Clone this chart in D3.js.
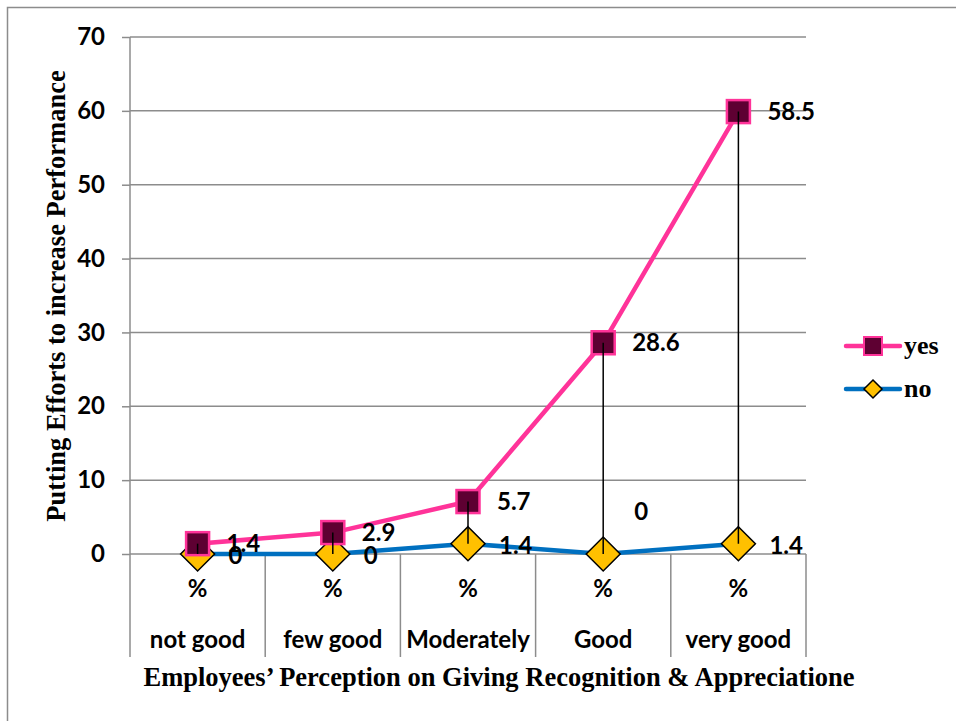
<!DOCTYPE html>
<html>
<head>
<meta charset="utf-8">
<script src="https://cdn.jsdelivr.net/npm/d3@7"></script>
<style>
  html, body { margin: 0; padding: 0; background: #fff; }
  svg { display: block; }
</style>
</head>
<body>
<svg id="chart" width="956" height="721"></svg>
<script>
// Survey responses by perception level (percent)
const categories = ["not good", "few good", "Moderately", "Good", "very good"];
const yesValues = [1.4, 2.9, 5.7, 28.6, 58.5];
const noValues = [0, 0, 1.4, 0, 1.4];
const yTicks = [0, 10, 20, 30, 40, 50, 60, 70];
const seriesNames = ["yes", "no"];

(function () {
const svg = d3.select("#chart");
const W = 956, H = 721;
const plotL = 130, plotR = 806, plotT = 37, plotB = 554, axisFoot = 657;

const numFont = "Lato, 'Open Sans', sans-serif";
const numSize = 24;
const serif = "'Liberation Serif', 'Times New Roman', serif";

// outer frame
svg.append("rect")
  .attr("x", 7.5).attr("y", 7.5)
  .attr("width", W + 20).attr("height", H + 20)
  .attr("fill", "#fff").attr("stroke", "#8c8c8c").attr("stroke-width", 1.5);

const x = d3.scaleBand().domain(categories).range([plotL, plotR]).padding(0);
const y = d3.scaleLinear().domain([0, 70]).range([plotB, plotT]);
const cx = d => x(d) + x.bandwidth() / 2;

// stacked series: "yes" sits on top of "no"
const rows = categories.map((c, i) => ({
  cat: c, yes: yesValues[i], no: noValues[i], yesTop: yesValues[i] + noValues[i]
}));

// y axis ticks and labels
const yAxis = d3.axisLeft(y).tickValues(yTicks).tickSize(8).tickPadding(17);
const gy = svg.append("g").attr("transform", `translate(${plotL},0)`).call(yAxis);
gy.select(".domain").remove();
gy.selectAll(".tick line").attr("stroke", "#8c8c8c").attr("stroke-width", 1.5);
gy.selectAll(".tick text")
  .attr("font-family", numFont).attr("font-weight", "bold")
  .attr("font-size", numSize).attr("fill", "#000");

// horizontal gridlines
svg.append("g").selectAll("line").data(yTicks).join("line")
  .attr("x1", plotL).attr("x2", plotR)
  .attr("y1", d => y(d)).attr("y2", d => y(d))
  .attr("stroke", "#8c8c8c").attr("stroke-width", 1.5);

// y axis line, extended down through the category area
svg.append("line")
  .attr("x1", plotL).attr("x2", plotL).attr("y1", plotT).attr("y2", axisFoot)
  .attr("stroke", "#8c8c8c").attr("stroke-width", 1.5);

// category dividers below the baseline
svg.append("g").selectAll("line").data(categories).join("line")
  .attr("x1", d => x(d) + x.bandwidth()).attr("x2", d => x(d) + x.bandwidth())
  .attr("y1", plotB).attr("y2", axisFoot)
  .attr("stroke", "#8c8c8c").attr("stroke-width", 1.5);

// category labels: "%" line and name line
const catG = svg.append("g")
  .attr("font-family", numFont).attr("font-weight", "bold").attr("font-size", numSize)
  .attr("text-anchor", "middle");
catG.append("g").selectAll("text").data(categories).join("text")
  .attr("x", d => cx(d)).attr("y", 597)
  .text("%");
catG.append("g").selectAll("text").data(categories).join("text")
  .attr("x", d => cx(d)).attr("y", 648)
  .text(d => d);

// series lines
const pink = "#ff3399", blue = "#0070c0";
const lineYes = d3.line().x(d => cx(d.cat)).y(d => y(d.yesTop));
const lineNo = d3.line().x(d => cx(d.cat)).y(d => y(d.no));
svg.append("path").datum(rows).attr("d", lineNo)
  .attr("fill", "none").attr("stroke", blue).attr("stroke-width", 4.5).attr("stroke-linejoin", "round");
svg.append("path").datum(rows).attr("d", lineYes)
  .attr("fill", "none").attr("stroke", pink).attr("stroke-width", 4.5).attr("stroke-linejoin", "round");

// markers
const sq = 23, dm = 17;
svg.append("g").selectAll("path").data(rows).join("path")
  .attr("d", d => {
    const px = cx(d.cat), py = y(d.no);
    return `M${px},${py - dm}L${px + dm},${py}L${px},${py + dm}L${px - dm},${py}Z`;
  })
  .attr("fill", "#ffc000").attr("stroke", "#000").attr("stroke-width", 1.5);
svg.append("g").selectAll("rect").data(rows).join("rect")
  .attr("x", d => cx(d.cat) - sq / 2).attr("y", d => y(d.yesTop) - sq / 2)
  .attr("width", sq).attr("height", sq)
  .attr("fill", "#5e0032").attr("stroke", pink).attr("stroke-width", 2.5);

// high-low lines between the two series
svg.append("g").selectAll("line").data(rows).join("line")
  .attr("x1", d => cx(d.cat)).attr("x2", d => cx(d.cat))
  .attr("y1", d => y(d.yesTop)).attr("y2", d => y(d.no))
  .attr("stroke", "#000").attr("stroke-width", 1.5);

// data labels
const lab = svg.append("g")
  .attr("font-family", numFont).attr("font-weight", "bold").attr("font-size", numSize);
lab.append("g").selectAll("text").data(rows).join("text")
  .attr("x", d => cx(d.cat) + 29).attr("y", d => y(d.yesTop))
  .attr("dy", "0.35em")
  .text(d => d.yes);
lab.append("g").selectAll("text").data(rows).join("text")
  .attr("x", d => cx(d.cat) + 31)
  .attr("y", d => y(d.no) + (d.cat === "Good" ? -42 : 2))
  .attr("dy", "0.35em")
  .text(d => d.no);

// axis titles
svg.append("text")
  .attr("x", 499).attr("y", 686)
  .attr("text-anchor", "middle")
  .attr("font-family", serif).attr("font-weight", "bold").attr("font-size", 26.5)
  .text("Employees’ Perception on Giving Recognition & Appreciatione");
svg.append("text")
  .attr("transform", "translate(65,296) rotate(-90)")
  .attr("text-anchor", "middle")
  .attr("font-family", serif).attr("font-weight", "bold").attr("font-size", 26.5)
  .text("Putting Efforts to increase Performance");

// legend
const legend = svg.append("g");
const legY = [346, 389];
legend.append("g").selectAll("line").data(seriesNames).join("line")
  .attr("x1", 846).attr("x2", 900)
  .attr("y1", (d, i) => legY[i]).attr("y2", (d, i) => legY[i])
  .attr("stroke", (d, i) => i === 0 ? pink : blue)
  .attr("stroke-width", 4.5).attr("stroke-linecap", "round");
legend.append("rect")
  .attr("x", 873 - 9).attr("y", legY[0] - 9).attr("width", 18).attr("height", 18)
  .attr("fill", "#5e0032").attr("stroke", pink).attr("stroke-width", 2);
legend.append("path")
  .attr("d", `M873,${legY[1] - 9}L882,${legY[1]}L873,${legY[1] + 9}L864,${legY[1]}Z`)
  .attr("fill", "#ffc000").attr("stroke", "#000").attr("stroke-width", 1.5);
legend.append("g").selectAll("text").data(seriesNames).join("text")
  .attr("x", 904).attr("y", (d, i) => legY[i])
  .attr("dy", "0.3em")
  .attr("font-family", serif).attr("font-weight", "bold").attr("font-size", 26)
  .text(d => d);
})();
</script>
</body>
</html>
